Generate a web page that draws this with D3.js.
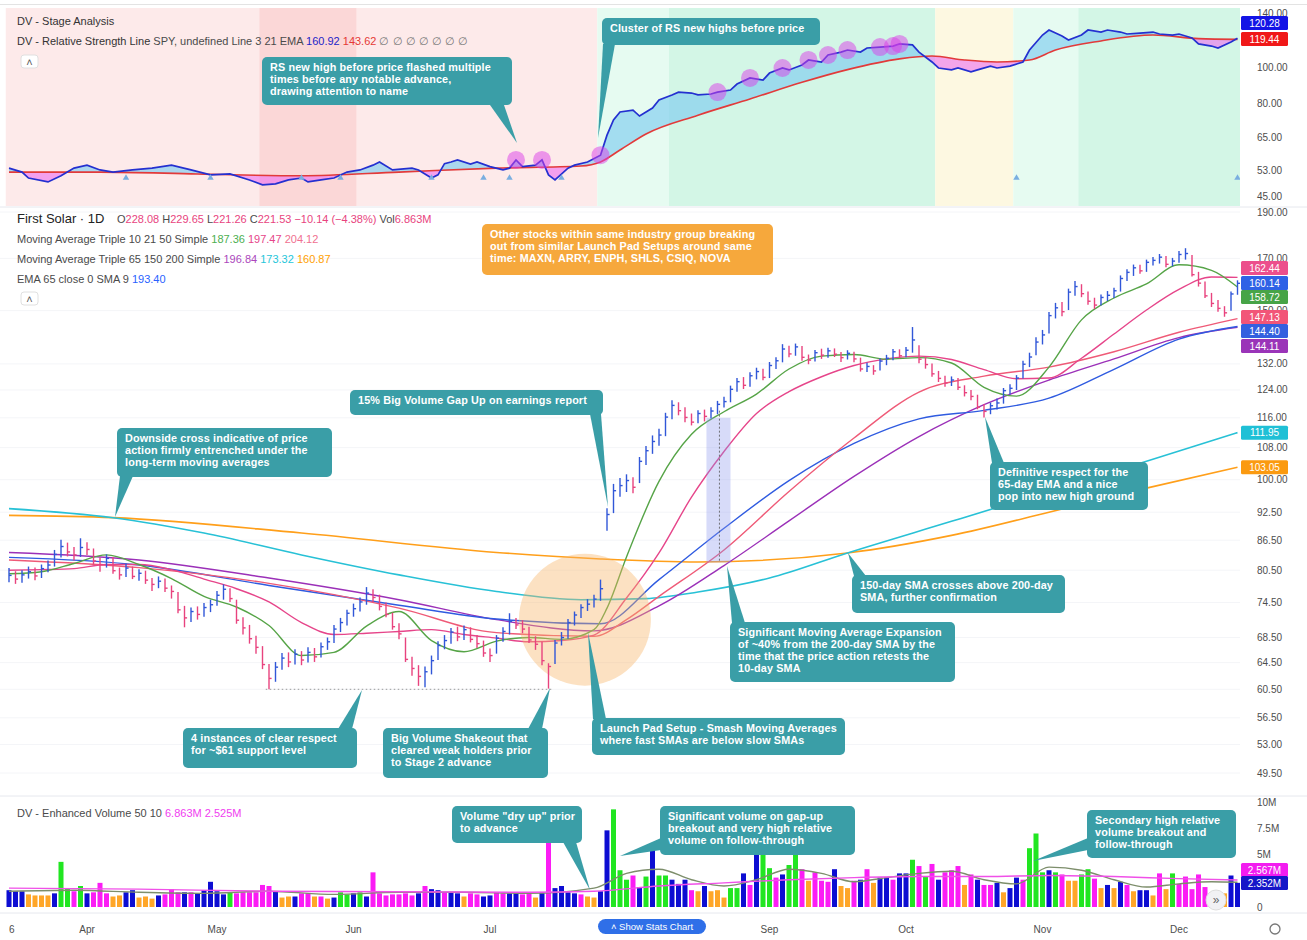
<!DOCTYPE html>
<html>
<head>
<meta charset="utf-8">
<script src="https://cdn.jsdelivr.net/npm/d3@7"></script>
<style>
  body { margin: 0; background: #fff; }
  svg { display: block; font-family: "Liberation Sans", Arial, sans-serif; }
</style>
</head>
<body>
<svg width="1307" height="940"></svg>
<script>
// ---- data (bar index 0 = 16 Mar, 6.5px per trading day) ----
var closes = [79.5,78.8,79.6,80.2,79.4,80.8,81.5,83.6,85.2,84.1,
  83.5,85.0,84.6,82.3,81.6,82.8,80.4,79.6,80.9,79.3,
  79.9,78.6,77.8,78.4,77.1,76.5,73.2,71.8,72.9,72.4,
  73.6,74.1,75.8,76.9,75.2,71.4,70.1,68.3,66.9,64.2,
  62.1,63.8,65.2,64.6,65.8,64.9,66.1,65.4,67.0,67.8,
  69.9,71.0,72.6,73.4,74.6,76.2,75.4,73.8,72.4,70.3,
  69.1,65.0,63.6,62.4,63.1,64.8,67.2,68.0,69.4,68.6,
  69.8,68.2,67.5,66.0,65.6,68.4,69.5,71.2,70.6,69.9,
  68.1,67.4,64.8,63.9,67.6,68.5,71.0,72.3,73.6,74.2,
  75.1,77.0,92.0,97.4,98.6,99.8,98.2,104.5,107.2,109.6,
  111.3,116.2,119.5,118.0,116.1,114.8,117.2,116.4,117.9,119.8,
  120.6,124.2,126.5,125.4,128.3,129.6,127.8,131.5,133.0,136.8,
  135.2,137.5,134.1,133.2,135.6,134.8,136.2,135.1,134.0,135.4,
  133.6,130.4,131.2,129.8,132.9,133.8,135.9,134.6,136.4,139.8,
  133.5,131.8,128.9,127.5,126.1,127.0,124.8,123.2,122.1,119.0,
  117.8,119.4,120.2,123.8,124.5,127.6,131.9,134.2,139.1,141.5,
  148.2,151.0,149.6,156.8,158.9,156.2,153.4,152.0,154.8,155.6,
  157.3,162.0,164.4,166.2,165.0,168.4,169.2,170.5,167.6,168.9,
  171.6,172.0,163.5,160.2,155.4,152.6,150.8,149.2,156.1,160.14];

var highs = [80.9,80.3,80.5,81.2,81.0,81.6,82.4,84.5,86.6,86.0,
  85.1,86.9,86.1,84.8,83.0,83.6,83.1,81.0,81.8,81.2,
  80.7,80.4,79.0,79.3,78.9,77.6,76.4,73.9,73.6,73.8,
  74.4,75.0,76.6,77.8,77.1,75.0,71.9,70.6,68.8,67.1,
  64.3,64.6,66.0,66.1,66.6,66.3,66.9,66.8,67.7,68.5,
  70.6,71.8,73.2,74.3,75.4,77.3,76.9,75.9,74.5,72.7,
  70.9,68.5,65.4,64.1,63.9,65.6,67.9,68.9,70.1,70.3,
  70.5,70.2,68.9,68.0,66.7,68.9,70.2,72.6,71.8,71.4,
  70.3,68.7,67.8,64.4,68.1,69.4,71.6,72.9,74.2,75.1,
  75.9,78.7,93.4,99.0,100.4,101.3,100.6,105.6,108.4,111.2,
  113.0,117.4,121.0,120.4,119.0,117.2,118.1,118.3,119.0,120.8,
  122.0,125.3,127.6,127.9,129.4,130.8,130.5,132.6,134.1,138.4,
  137.9,138.6,137.8,135.0,136.5,136.9,137.2,137.0,135.8,136.4,
  135.9,134.0,132.4,131.6,133.7,134.9,136.8,136.7,137.5,144.2,
  138.0,134.2,132.1,129.8,128.3,128.1,127.6,125.4,124.0,122.6,
  119.9,120.3,121.5,124.6,125.7,128.5,133.0,135.6,140.7,143.2,
  149.5,152.8,153.1,158.1,161.0,159.8,157.0,154.7,155.9,157.2,
  158.4,163.2,165.6,167.5,167.4,169.5,170.6,171.8,171.0,170.2,
  173.0,174.2,171.4,164.6,160.8,156.5,153.9,151.6,157.0,161.3];

var lows = [78.2,77.9,78.1,78.9,78.6,79.0,80.1,81.2,83.0,83.2,
  82.4,83.1,83.5,81.6,80.2,81.0,79.8,78.7,79.2,78.8,
  78.5,77.9,76.6,77.1,76.4,75.2,72.6,70.2,71.1,71.5,
  72.0,72.8,73.9,75.0,74.6,70.8,69.0,67.5,65.9,63.5,
  60.5,61.6,63.4,63.8,64.2,64.1,64.5,64.6,65.3,66.5,
  67.6,69.4,70.5,72.0,72.9,74.1,74.6,73.1,71.9,69.8,
  68.2,64.6,62.5,61.0,60.8,62.7,64.9,66.6,67.5,67.9,
  68.1,67.7,66.8,65.4,64.6,65.9,67.8,69.0,69.9,69.2,
  67.6,66.5,64.1,60.6,64.3,67.2,68.3,70.5,71.8,73.0,
  73.6,74.8,88.5,92.3,96.0,97.1,96.8,99.2,103.6,106.4,
  108.5,111.0,115.6,116.7,114.8,113.9,114.5,115.0,115.8,117.0,
  118.9,120.4,123.5,124.3,125.0,127.2,126.9,127.6,130.4,132.5,
  134.1,134.6,133.0,131.9,132.8,133.6,134.0,134.2,132.6,133.4,
  132.5,129.6,129.5,128.6,129.9,131.6,133.2,133.8,134.1,135.6,
  132.2,130.5,128.0,126.4,125.0,125.2,124.0,122.1,121.0,118.4,
  116.1,117.0,118.3,120.0,122.7,124.0,127.5,131.0,134.8,138.3,
  142.0,147.2,148.0,150.2,155.4,154.9,152.1,150.6,151.8,153.5,
  154.6,157.0,161.0,163.0,163.9,164.6,167.1,167.9,166.4,166.8,
  168.2,169.5,162.8,158.9,154.6,151.3,149.6,147.8,149.9,155.8];

// moving averages, [bar index, price]
var sma10 = [[0,79.8],[5,80.2],[10,81.8],[15,83.5],[20,81.6],[25,78.9],[30,75.6],[35,73.7],[40,70.5],[45,65.6],[50,66.1],[55,70.4],[60,72.9],[65,68.0],[70,66.2],[75,67.9],[80,68.5],[85,68.2],[90,69.8],[92,73.5],[95,83.1],[100,99.6],[105,111.5],[110,117.7],[115,122.8],[120,130.4],[125,134.5],[130,135.0],[135,133.5],[140,134.0],[145,132.3],[150,124.8],[155,122.2],[160,131.0],[165,146.7],[170,154.6],[175,159.9],[180,167.4],[185,165.2],[189,158.72]];
var sma21 = [[0,80.5],[5,80.6],[10,80.8],[15,81.6],[20,81.6],[25,80.6],[30,78.8],[35,77.0],[40,74.6],[45,71.0],[50,69.0],[55,69.2],[60,69.5],[65,69.8],[70,69.0],[75,68.4],[80,67.8],[85,68.0],[90,68.9],[95,75.3],[100,83.9],[105,95.9],[110,107.0],[115,117.2],[120,123.5],[125,128.0],[130,131.5],[135,133.6],[140,134.5],[145,133.4],[150,130.2],[155,127.4],[160,127.6],[165,133.8],[170,141.8],[175,150.2],[180,157.8],[185,162.6],[189,162.44]];
var sma50 = [[0,82.5],[20,81.0],[40,78.0],[60,73.5],[75,69.3],[90,68.7],[95,71.5],[100,75.6],[110,84.5],[120,97.2],[130,110.5],[140,123.4],[150,128.2],[160,131.0],[170,135.9],[180,142.4],[189,147.13]];
var sma65 = [[0,84.0],[20,82.5],[40,79.0],[60,75.0],[75,71.5],[90,69.6],[100,73.9],[110,81.4],[120,90.6],[130,100.8],[140,110.9],[150,119.7],[160,127.0],[170,133.6],[180,140.6],[189,144.11]];
var ema65 = [[0,83.0],[20,81.5],[40,77.6],[60,74.0],[75,71.6],[91,70.8],[100,78.7],[110,89.0],[120,99.8],[130,109.1],[140,115.7],[150,118.1],[160,121.6],[170,130.3],[180,140.1],[189,144.40]];
var sma150 = [[0,93.3],[16,91.3],[30,88.0],[45,83.5],[60,79.6],[75,76.5],[88,75.0],[98,75.2],[106,76.4],[117,79.0],[129,83.9],[145,90.5],[160,97.2],[175,104.5],[189,111.95]];
var sma200 = [[0,91.8],[16,91.3],[45,88.0],[75,84.0],[91,82.7],[106,82.1],[129,83.9],[145,87.5],[160,92.5],[175,98.0],[189,103.05]];

// relative strength line and its 21 EMA, [bar index, value]
var rsLine = [[0,53.7],[2,52.4],[3,50.5],[6,49.3],[8,51.2],[10,53.7],[12,54.7],[14,53.1],[16,52.4],[19,53.1],[22,53.7],[25,54.7],[28,53.1],[31,51.5],[34,51.8],[37,49.9],[39,48.4],[41,48.7],[43,49.9],[45,50.5],[46,49.3],[48,49.9],[50,50.5],[52,52.4],[54,53.1],[56,54.7],[57,55.8],[59,53.1],[62,53.7],[63,53.1],[65,50.5],[66,51.5],[67,55.2],[68,55.8],[69,56.5],[71,55.1],[72,55.8],[74,54.2],[76,53.1],[77,53.7],[78,56.5],[79,54.2],[81,54.7],[82,56.5],[83,51.5],[84,49.9],[86,53.7],[87,54.7],[89,55.8],[91,58.2],[92,65.9],[93,72.4],[94,76.1],[96,77.0],[97,74.2],[99,78.0],[100,82.0],[102,84.6],[103,86.1],[105,85.6],[106,84.6],[108,85.1],[109,86.1],[111,87.2],[112,90.5],[114,94.0],[116,92.8],[117,96.9],[119,100.0],[120,98.8],[122,101.9],[123,105.1],[125,103.8],[126,108.4],[128,110.4],[129,111.8],[131,110.4],[132,113.2],[134,113.9],[136,114.6],[137,116.1],[139,115.4],[140,110.4],[142,103.8],[143,100.0],[145,98.8],[146,100.0],[148,97.6],[149,98.8],[151,101.2],[152,100.0],[154,101.2],[156,103.8],[157,111.8],[159,122.7],[160,126.6],[162,122.0],[163,119.0],[165,122.7],[166,126.6],[168,125.0],[169,126.6],[171,125.0],[172,123.5],[174,124.2],[176,125.0],[177,123.5],[179,122.7],[180,123.5],[182,120.5],[183,116.1],[185,114.6],[186,113.2],[188,117.5],[189,120.28]];
var rsEma = [[0,52.4],[14,52.4],[29,51.8],[45,51.2],[60,52.4],[75,53.7],[88,54.4],[91,55.8],[94,60.1],[98,66.4],[106,74.6],[114,82.5],[122,91.5],[129,99.0],[137,105.8],[142,107.7],[147,105.1],[152,103.8],[157,105.1],[161,111.8],[168,118.3],[176,122.7],[183,120.0],[189,119.44]];
var rsNewHighs = [78, 82, 91, 109, 114, 119, 123, 126, 129, 134, 136, 137];
var rsMarkers = [18, 31, 45, 51, 65, 73, 77, 85, 155, 189];

// stage analysis shading: start/end bar and stage
var stageStart = [0, 39, 54, 91, 102, 143, 155, 165];
var stageEnd = [39, 54, 91, 102, 143, 155, 165, 190];
var stageKind = ["s4", "s4x", "s4", "s2a", "s2", "s3", "s2a", "s2"];

// volume, millions, with the indicator's colour class
var volumes = [1.6,1.5,1.5,1.2,1.1,1.1,1.1,1.3,4.3,1.8,
  1.5,2.0,1.3,1.4,2.3,1.3,1.0,1.1,1.4,1.6,
  0.9,1.0,0.8,1.1,1.2,1.7,1.4,1.4,1.4,1.3,
  1.6,2.4,1.5,1.2,1.4,1.3,1.4,1.4,1.4,2.1,
  2.0,1.5,0.9,1.0,1.0,1.3,1.3,1.0,1.0,0.8,
  0.9,1.4,1.2,1.3,1.4,1.0,3.3,1.3,1.1,1.2,
  1.2,1.3,1.1,1.3,2.0,1.7,1.6,1.4,1.4,1.3,
  1.0,1.3,1.2,1.0,1.1,1.4,1.3,1.3,1.3,1.2,
  1.3,0.9,1.4,6.6,1.8,2.0,1.4,1.3,1.2,1.0,
  0.9,1.5,7.3,9.3,3.5,2.6,3.0,1.9,2.9,5.8,
  3.0,3.0,2.6,2.2,2.6,1.6,1.5,2.0,1.5,1.6,
  0.9,1.8,1.8,3.2,2.1,6.0,5.9,3.7,2.8,3.1,
  4.0,5.6,3.6,2.5,3.3,2.5,2.4,3.6,2.0,1.8,
  2.5,2.6,3.6,2.3,2.8,2.8,2.6,3.2,3.2,4.5,
  3.9,2.9,4.1,2.6,3.3,3.5,3.9,2.1,3.1,2.6,
  2.1,2.1,2.3,1.4,1.8,2.8,2.6,5.6,7.0,3.3,
  3.5,3.3,3.1,2.5,2.5,3.1,3.6,2.7,1.8,2.1,
  1.8,2.4,2.1,1.5,1.6,1.6,1.1,3.2,1.7,3.2,
  2.2,2.9,1.7,3.1,1.9,1.4,1.0,1.3,3.0,2.3];
var volKinds = ("bbboooobgg" + "mgbmmmoobb" + "ooobmmmbmb" + "bbbbgmmmmm" + "mboobmmomo" +
  "bggbgbmmmm" + "mmmbmbbmbb" + "ommbbmmbbm" + "mobmbbbbmo" + "obbgggmbgb" +
  "ggbbbmoboo" + "oggbmbggmb" + "ggmommmboo" + "mbmobbmbbg" + "mgmbmmmomb" +
  "mmbobbmggg" + "bgmooggmob" + "obmobbomog" + "mmmmmooobb").split("");
var volAvg50 = [[0,1.8],[20,1.7],[40,1.5],[60,1.45],[80,1.4],[90,1.5],[100,2.0],[110,2.3],[120,2.6],[130,2.8],[140,2.9],[150,2.9],[160,3.0],[170,2.9],[180,2.7],[189,2.57]];
var volAvg10 = [[0,1.5],[10,1.6],[20,1.4],[30,1.3],[40,1.5],[50,1.2],[60,1.4],[70,1.4],[80,1.3],[90,1.8],[95,3.2],[100,3.6],[105,2.6],[110,2.0],[115,2.6],[120,3.6],[125,3.2],[130,2.4],[135,2.8],[140,3.2],[145,3.4],[150,2.6],[155,2.2],[160,3.8],[165,3.5],[170,2.6],[175,1.9],[180,2.2],[185,2.4],[189,2.35]];

// axes (August's label sits under the "Show Stats Chart" button, so it is not listed)
var priceTicks = [190, 170, 150, 132, 124, 116, 108, 100, 92.5, 86.5, 80.5, 74.5, 68.5, 64.5, 60.5, 56.5, 53, 49.5];
var rsTicks = [140, 100, 80, 65, 53, 45];
var volTicks = [10, 7.5, 5, 0];
var volTickLabels = ["10M", "7.5M", "5M", "0"];
var monthIdx = [0, 12, 32, 53, 74, 117, 138, 159, 180];
var monthNames = ["16", "Apr", "May", "Jun", "Jul", "Sep", "Oct", "Nov", "Dec"];

// ---- layout ----
var svg = d3.select("svg");
var plotR = 1240;
var top0 = 8, top1 = 206, main0 = 208, main1 = 795, vol0 = 797, vol1 = 912;

var x = d3.scaleLinear().domain([0, 189]).range([9, 1237.5]);
var yRS = d3.scaleLog().domain([45, 140]).range([196.6, 13.8]);
var yP = d3.scaleLog().domain([49.5, 190]).range([773, 212]);
var yV = d3.scaleLinear().domain([0, 10]).range([907, 802]);

var defs = svg.append("defs");
function clipRect(id, y0, y1) {
  defs.append("clipPath").attr("id", id).append("rect")
    .attr("x", 0).attr("y", y0).attr("width", plotR).attr("height", y1 - y0);
}
clipRect("cTop", top0, top1);
clipRect("cMain", main0, main1);
clipRect("cVol", vol0, vol1);

var stageColor = { s4: "#fdeaea", s4x: "#fbd7d7", s2a: "#e6fbf1", s2: "#d3f6e6", s3: "#fdf8e1" };
var volColor = { b: "#0d0dd2", g: "#21e621", m: "#fb1cf5", o: "#ffa628" };
var upCol = "#3157d8", downCol = "#e8437e";

// frame lines
svg.append("line").attr("x1", 0).attr("x2", 1307).attr("y1", 4.5).attr("y2", 4.5).attr("stroke", "#e3e3e3");
[207, 796, 913].forEach(function(yy) {
  svg.append("line").attr("x1", 0).attr("x2", 1307).attr("y1", yy).attr("y2", yy).attr("stroke", "#e6e8ee");
});

// ================= top panel: stage analysis + RS line =================
var gTop = svg.append("g").attr("clip-path", "url(#cTop)");
gTop.selectAll("rect.stage").data(stageStart).enter().append("rect")
  .attr("x", function(d) { return x(d - 0.5); })
  .attr("width", function(d, i) { return x(stageEnd[i] - 0.5) - x(d - 0.5); })
  .attr("y", top0).attr("height", top1 - top0)
  .attr("fill", function(d, i) { return stageColor[stageKind[i]]; });

var rsX = function(d) { return x(d[0]); };
var rsY = function(d) { return yRS(d[1]); };

defs.append("clipPath").attr("id", "aboveEma").append("path")
  .attr("d", d3.area().x(rsX).y0(top0).y1(rsY).curve(d3.curveMonotoneX)(rsEma));
defs.append("clipPath").attr("id", "belowEma").append("path")
  .attr("d", d3.area().x(rsX).y0(top1).y1(rsY).curve(d3.curveMonotoneX)(rsEma));

gTop.append("g").attr("clip-path", "url(#aboveEma)").append("path")
  .attr("d", d3.area().x(rsX).y0(top1).y1(rsY)(rsLine))
  .attr("fill", "#7fcdef").attr("opacity", 0.65);
gTop.append("g").attr("clip-path", "url(#belowEma)").append("path")
  .attr("d", d3.area().x(rsX).y0(top0).y1(rsY)(rsLine))
  .attr("fill", "#ee6ef0").attr("opacity", 0.6);

gTop.append("path").attr("d", d3.line().x(rsX).y(rsY).curve(d3.curveMonotoneX)(rsEma))
  .attr("fill", "none").attr("stroke", "#e23a3a").attr("stroke-width", 1.6);
gTop.append("path").attr("d", d3.line().x(rsX).y(rsY)(rsLine))
  .attr("fill", "none").attr("stroke", "#2430d0").attr("stroke-width", 1.7);

var rsLookup = new Map(rsLine.map(function(d) { return [d[0], d[1]]; }));
gTop.selectAll("circle.hi").data(rsNewHighs).enter().append("circle")
  .attr("cx", function(d) { return x(d); })
  .attr("cy", function(d) { return yRS(rsLookup.get(d)); })
  .attr("r", 9).attr("fill", "#dc3ee8").attr("opacity", 0.5);

gTop.selectAll("path.tri").data(rsMarkers).enter().append("path")
  .attr("d", d3.symbol().type(d3.symbolTriangle).size(18))
  .attr("transform", function(d) { return "translate(" + x(d) + "," + (top1 - 28) + ")"; })
  .attr("fill", "#79aee0");

// ================= main panel: price + moving averages =================
var gMain = svg.append("g").attr("clip-path", "url(#cMain)");
gMain.selectAll("line.grid").data(priceTicks).enter().append("line")
  .attr("x1", 0).attr("x2", plotR)
  .attr("y1", function(d) { return yP(d); }).attr("y2", function(d) { return yP(d); })
  .attr("stroke", "#f4f5f8");

var maLine = d3.line().x(function(d) { return x(d[0]); }).y(function(d) { return yP(d[1]); }).curve(d3.curveMonotoneX);
var maDefs = [
  [sma200, "#ff9f1a", 1.6], [sma150, "#28c1d6", 1.6],
  [sma65, "#9b30b8", 1.4], [ema65, "#2f5be0", 1.4], [sma50, "#ef5a77", 1.4],
  [sma21, "#e6458a", 1.4], [sma10, "#56a447", 1.4]
];
maDefs.forEach(function(m) {
  gMain.append("path").attr("d", maLine(m[0]))
    .attr("fill", "none").attr("stroke", m[1]).attr("stroke-width", m[2]);
});

// launch pad highlight
gMain.append("circle").attr("cx", x(88.6)).attr("cy", yP(71.5)).attr("r", 66)
  .attr("fill", "#f8b366").attr("opacity", 0.4);

// support level
gMain.append("line").attr("x1", x(39.5)).attr("x2", x(83.5))
  .attr("y1", yP(60.5)).attr("y2", yP(60.5))
  .attr("stroke", "#9a9a9a").attr("stroke-dasharray", "1.5,2.5");

// price bars (high-low with close tick)
var barG = gMain.selectAll("g.bar").data(d3.range(closes.length)).enter().append("g")
  .attr("stroke", function(i) { return (i === 0 || closes[i] >= closes[i - 1]) ? upCol : downCol; })
  .attr("stroke-width", 1.4);
barG.append("line")
  .attr("x1", function(i) { return x(i); }).attr("x2", function(i) { return x(i); })
  .attr("y1", function(i) { return yP(highs[i]); }).attr("y2", function(i) { return yP(lows[i]); });
barG.append("line")
  .attr("x1", function(i) { return x(i); }).attr("x2", function(i) { return x(i) + 2.6; })
  .attr("y1", function(i) { return yP(closes[i]); }).attr("y2", function(i) { return yP(closes[i]); });

// moving average expansion marker
gMain.append("rect").attr("x", x(107.3)).attr("width", x(111) - x(107.3))
  .attr("y", yP(116)).attr("height", yP(82) - yP(116))
  .attr("fill", "#8d98ee").attr("opacity", 0.35);
gMain.append("line").attr("x1", x(109.3)).attr("x2", x(109.3))
  .attr("y1", yP(118)).attr("y2", yP(82))
  .attr("stroke", "#555").attr("stroke-dasharray", "2,2").attr("stroke-width", 0.8);

// ================= volume panel =================
var gVol = svg.append("g").attr("clip-path", "url(#cVol)");
gVol.selectAll("rect.v").data(volumes).enter().append("rect")
  .attr("x", function(d, i) { return x(i) - 2.5; })
  .attr("width", 5)
  .attr("y", function(d) { return yV(d); })
  .attr("height", function(d) { return yV(0) - yV(d); })
  .attr("fill", function(d, i) { return volColor[volKinds[i]]; });
var vLine = d3.line().x(function(d) { return x(d[0]); }).y(function(d) { return yV(d[1]); }).curve(d3.curveMonotoneX);
gVol.append("path").attr("d", vLine(volAvg10)).attr("fill", "none").attr("stroke", "#7d8e6b").attr("stroke-width", 1.4);
gVol.append("path").attr("d", vLine(volAvg50)).attr("fill", "none").attr("stroke", "#f050e8").attr("stroke-width", 1.4);

// ================= right axes =================
var axisX = 1257;
function tickLabels(ticks, scale, fmt) {
  svg.append("g").selectAll("text").data(ticks).enter().append("text")
    .attr("x", axisX).attr("y", function(d) { return scale(d) + 3.5; })
    .attr("font-size", 10).attr("fill", "#4d4d4d").text(fmt);
}
tickLabels(rsTicks, yRS, d3.format(".2f"));
tickLabels(priceTicks, yP, d3.format(".2f"));
svg.append("g").selectAll("text").data(volTicks).enter().append("text")
  .attr("x", axisX).attr("y", function(d) { return yV(d) + 3.5; })
  .attr("font-size", 10).attr("fill", "#4d4d4d")
  .text(function(d, i) { return volTickLabels[i]; });

function badge(yc, label, fill) {
  svg.append("rect").attr("x", 1241).attr("y", yc - 7).attr("width", 47).attr("height", 14).attr("rx", 1.5).attr("fill", fill);
  svg.append("text").attr("x", 1264.5).attr("y", yc + 3.5).attr("text-anchor", "middle")
    .attr("font-size", 10).attr("fill", "#fff").text(label);
}
badge(23, "120.28", "#1414e6");
badge(39, "119.44", "#f01818");
badge(268, "162.44", "#ec4f8c");
badge(283, "160.14", "#2f62e6");
badge(297, "158.72", "#47a447");
badge(317, "147.13", "#f25578");
badge(331, "144.40", "#3460df");
badge(346, "144.11", "#9a34b8");
badge(yP(111.95), "111.95", "#1fc0d6");
badge(yP(103.05), "103.05", "#fb9a10");
badge(870, "2.567M", "#f31cf0");
badge(883, "2.352M", "#1616c8");

// ================= bottom axis =================
var gAx = svg.append("g");
defs.append("clipPath").attr("id", "cAx").append("rect").attr("x", 9).attr("y", 913).attr("width", 1231).attr("height", 27);
gAx.attr("clip-path", "url(#cAx)").selectAll("text").data(monthIdx).enter().append("text")
  .attr("x", function(d) { return x(d); }).attr("y", 933)
  .attr("text-anchor", "middle").attr("font-size", 10).attr("fill", "#4d4d4d")
  .text(function(d, i) { return monthNames[i]; });

svg.append("rect").attr("x", 598).attr("y", 919).attr("width", 108).attr("height", 15).attr("rx", 7.5).attr("fill", "#2f6fe8");
svg.append("text").attr("x", 652).attr("y", 930).attr("text-anchor", "middle").attr("font-size", 9.5).attr("fill", "#fff").text("\u02c4 Show Stats Chart");
svg.append("circle").attr("cx", 1275).attr("cy", 929).attr("r", 5).attr("fill", "none").attr("stroke", "#777").attr("stroke-width", 1.3);
svg.append("circle").attr("cx", 1216).attr("cy", 900).attr("r", 10).attr("fill", "#f1f1f4").attr("stroke", "#ddd");
svg.append("text").attr("x", 1216).attr("y", 904).attr("text-anchor", "middle").attr("font-size", 12).attr("fill", "#666").text("\u00bb");

// ================= legends =================
function legend(xx, yy, parts, size) {
  var t = svg.append("text").attr("x", xx).attr("y", yy).attr("font-size", size || 11);
  parts.forEach(function(p) { t.append("tspan").attr("fill", p[1]).text(p[0]); });
}
var grey = "#4a4a4a", pink = "#e8437e";
legend(17, 25, [["DV - Stage Analysis", "#333"]]);
legend(17, 45, [["DV - Relative Strength Line", "#333"], [" SPY, undefined Line 3 21 EMA", grey],
  ["  160.92", "#2323c8"], ["  143.62", "#e53935"], ["  \u2205  \u2205  \u2205  \u2205  \u2205  \u2205  \u2205", "#777"]]);
legend(17, 223, [["First Solar \u00b7 1D", "#222"]], 13);
legend(117, 223, [["O", grey], ["228.08", pink], [" H", grey], ["229.65", pink], [" L", grey], ["221.26", pink],
  [" C", grey], ["221.53", pink], [" \u221210.14 (\u22124.38%)", pink], [" Vol", grey], ["6.863M", pink]]);
legend(17, 243, [["Moving Average Triple 10 21 50 Simple", grey], ["  187.36", "#4caf50"], ["  197.47", "#e6458a"], ["  204.12", "#f07090"]]);
legend(17, 263, [["Moving Average Triple 65 150 200 Simple", grey], ["  196.84", "#ab47bc"], ["  173.32", "#26c6da"], ["  160.87", "#ffa000"]]);
legend(17, 283, [["EMA 65 close 0 SMA 9", grey], ["  193.40", "#2962ff"]]);
legend(17, 817, [["DV - Enhanced Volume 50 10", grey], ["  6.863M", "#f040f0"], ["  2.525M", "#f040f0"]]);

[61, 298].forEach(function(yy) {
  svg.append("rect").attr("x", 21).attr("y", yy - 6).attr("width", 17).attr("height", 13).attr("rx", 3)
    .attr("fill", "#fff").attr("stroke", "#e0e0e0");
  svg.append("text").attr("x", 29.5).attr("y", yy + 5).attr("text-anchor", "middle").attr("font-size", 11).attr("fill", "#555").text("\u02c4");
});

// ================= callouts =================
var teal = "#3a9ea7";
var callouts = [
  { x: 262, y: 57, w: 250, h: 48, fill: teal, tail: [490, 105, 504, 105, 517, 143],
    lines: ["RS new high before price flashed multiple", "times before any notable advance,", "drawing attention to name"] },
  { x: 602, y: 18, w: 218, h: 27, fill: teal, tail: [603, 44, 615, 44, 598, 138],
    lines: ["Cluster of RS new highs before price"] },
  { x: 482, y: 224, w: 291, h: 51, fill: "#f6a83c", tail: null,
    lines: ["Other stocks within same industry group breaking", "out from similar Launch Pad Setups around same", "time: MAXN, ARRY, ENPH, SHLS, CSIQ, NOVA"] },
  { x: 350, y: 390, w: 253, h: 25, fill: teal, tail: [590, 414, 601, 414, 608, 507],
    lines: ["15% Big Volume Gap Up on earnings report"] },
  { x: 117, y: 428, w: 215, h: 49, fill: teal, tail: [120, 476, 133, 476, 115, 517],
    lines: ["Downside cross indicative of price", "action firmly entrenched under the", "long-term moving averages"] },
  { x: 990, y: 462, w: 158, h: 48, fill: teal, tail: [992, 463, 1004, 463, 985, 417],
    lines: ["Definitive respect for the", "65-day EMA and a nice", "pop into new high ground"] },
  { x: 852, y: 575, w: 213, h: 38, fill: teal, tail: [854, 576, 866, 576, 848, 553],
    lines: ["150-day SMA crosses above 200-day", "SMA, further confirmation"] },
  { x: 730, y: 622, w: 225, h: 60, fill: teal, tail: [732, 623, 745, 623, 727, 566],
    lines: ["Significant Moving Average Expansion", "of ~40% from the 200-day SMA by the", "time that the price action retests the", "10-day SMA"] },
  { x: 183, y: 728, w: 174, h: 40, fill: teal, tail: [338, 729, 352, 729, 362, 690],
    lines: ["4 instances of clear respect", "for ~$61 support level"] },
  { x: 383, y: 728, w: 165, h: 50, fill: teal, tail: [528, 729, 542, 729, 550, 688],
    lines: ["Big Volume Shakeout that", "cleared weak holders prior", "to Stage 2 advance"] },
  { x: 592, y: 718, w: 253, h: 37, fill: teal, tail: [593, 719, 606, 719, 588, 632],
    lines: ["Launch Pad Setup - Smash Moving Averages", "where fast SMAs are below slow SMAs"] },
  { x: 452, y: 806, w: 130, h: 37, fill: teal, tail: [563, 842, 576, 842, 590, 890],
    lines: ["Volume \"dry up\" prior", "to advance"] },
  { x: 660, y: 806, w: 195, h: 49, fill: teal, tail: [661, 838, 661, 850, 620, 856],
    lines: ["Significant volume on gap-up", "breakout and very high relative", "volume on follow-through"] },
  { x: 1087, y: 810, w: 149, h: 48, fill: teal, tail: [1088, 838, 1088, 850, 1033, 861],
    lines: ["Secondary high relative", "volume breakout and", "follow-through"] }
];
var gC = svg.append("g");
callouts.forEach(function(c) {
  var g = gC.append("g");
  if (c.tail) {
    var t = c.tail;
    g.append("path").attr("d", "M" + t[0] + "," + t[1] + "L" + t[4] + "," + t[5] + "L" + t[2] + "," + t[3] + "Z").attr("fill", c.fill);
  }
  g.append("rect").attr("x", c.x).attr("y", c.y).attr("width", c.w).attr("height", c.h).attr("rx", 5).attr("fill", c.fill);
  c.lines.forEach(function(line, k) {
    g.append("text").attr("x", c.x + 8).attr("y", c.y + 14 + k * 12)
      .attr("font-size", 10.8).attr("font-weight", "bold").attr("letter-spacing", 0.15)
      .attr("fill", "#fff").text(line);
  });
});
</script>
</body>
</html>
